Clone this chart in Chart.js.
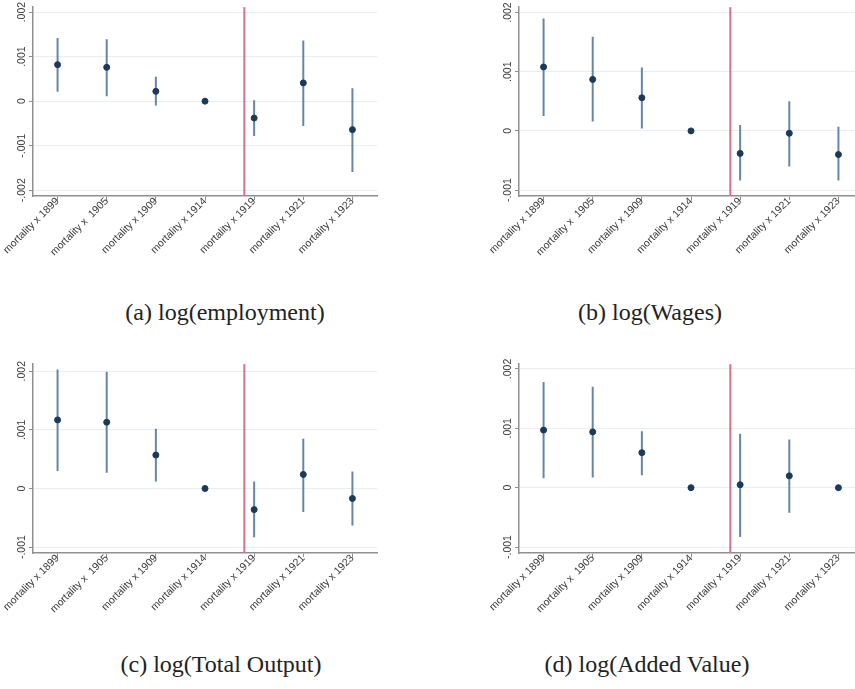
<!DOCTYPE html>
<html>
<head>
<meta charset="utf-8">
<script src="https://cdn.jsdelivr.net/npm/chart.js@4"></script>
<style>
body { margin: 0; width: 855px; height: 689px; overflow: hidden; background: #fff; position: relative; }
.panel { position: absolute; width: 390px; height: 260px; }
.cap { position: absolute; width: 400px; text-align: center; font-family: "Liberation Serif", serif; font-size: 24px; line-height: 28px; color: #222; }
</style>
</head>
<body>
<div class="panel" style="left:0;top:0"><canvas id="chartA"></canvas></div>
<div class="panel" style="left:486px;top:0"><canvas id="chartB"></canvas></div>
<div class="panel" style="left:0;top:357px"><canvas id="chartC"></canvas></div>
<div class="panel" style="left:486px;top:357px"><canvas id="chartD"></canvas></div>
<div class="cap" style="left:25px;top:298px">(a) log(employment)</div>
<div class="cap" style="left:450px;top:298px">(b) log(Wages)</div>
<div class="cap" style="left:21px;top:650px">(c) log(Total Output)</div>
<div class="cap" style="left:447px;top:650px">(d) log(Added Value)</div>
<script>
const categories = ['mortality x 1899', 'mortality x  1905', 'mortality x 1909', 'mortality x 1914', 'mortality x 1919', 'mortality x 1921', 'mortality x 1923'];
const yTicksWide = [-0.002, -0.001, 0, 0.001, 0.002];
const yTicksNarrow = [-0.001, 0, 0.001, 0.002];

// (a) log(employment)
const empCoef = [0.00082, 0.00076, 0.00022, 0, -0.00038, 0.00041, -0.00064];
const empLow  = [0.00021, 0.00011, -0.00010, null, -0.00078, -0.00056, -0.00159];
const empHigh = [0.00142, 0.00139, 0.00055, null, 0.00002, 0.00136, 0.00029];

// (b) log(Wages)
const wageCoef = [0.00108, 0.00087, 0.00056, 0, -0.00038, -0.00004, -0.00040];
const wageLow  = [0.00025, 0.00016, 0.00004, null, -0.00084, -0.00060, -0.00084];
const wageHigh = [0.00190, 0.00159, 0.00107, null, 0.00010, 0.00050, 0.00007];

// (c) log(Total Output)
const outCoef = [0.00117, 0.00113, 0.00057, 0, -0.00036, 0.00024, -0.00017];
const outLow  = [0.00030, 0.00027, 0.00012, null, -0.00083, -0.00040, -0.00063];
const outHigh = [0.00203, 0.00199, 0.00102, null, 0.00012, 0.00085, 0.00029];

// (d) log(Added Value)
const valCoef = [0.00097, 0.00094, 0.00059, 0, 0.00005, 0.00020, 0];
const valLow  = [0.00016, 0.00017, 0.00021, null, -0.00083, -0.00042, null];
const valHigh = [0.00178, 0.00170, 0.00095, null, 0.00091, 0.00081, null];

// vertical line between 1914 and 1919 (category index units)
const breakAt = 3.8;

const axisColor = '#8f8f8f';
const labelColor = '#3a3a3a';

function fmt(v) {
    if (v === 0) return '0';
    return (v < 0 ? '-' : '') + Math.abs(v).toFixed(3).slice(1);
}

const breakLine = {
    id: 'breakLine',
    beforeDatasetsDraw(chart) {
        const {ctx, chartArea, scales: {x}} = chart;
        const px = x.getPixelForValue(breakAt);
        ctx.save();
        ctx.strokeStyle = '#dc7087';
        ctx.lineWidth = 2;
        ctx.beginPath();
        ctx.moveTo(px, chartArea.top);
        ctx.lineTo(px, chartArea.bottom);
        ctx.stroke();
        ctx.restore();
    }
};

// stata style vertical y labels, centred on the tick
const yLabels = {
    id: 'yLabels',
    afterDraw(chart) {
        const {ctx, chartArea, scales: {y}} = chart;
        ctx.save();
        ctx.fillStyle = labelColor;
        ctx.font = '10.5px "Liberation Sans"';
        ctx.textAlign = 'center';
        ctx.textBaseline = 'middle';
        y.ticks.forEach(t => {
            const py = y.getPixelForValue(t.value);
            ctx.save();
            ctx.translate(chartArea.left - 11, py);
            ctx.rotate(-Math.PI / 2);
            ctx.fillText(fmt(t.value), 0, 0);
            ctx.restore();
        });
        ctx.restore();
    }
};

function grafico(id, coef, low, high, yTicks, yMin, yMax) {
    let bars = [];
    coef.forEach((c, i) => {
        if (low[i] === null) return;
        bars.push({x: i, y: low[i]}, {x: i, y: high[i]}, {x: i, y: null});
    });

    let ctx = document.getElementById(id).getContext('2d');
    new Chart(ctx, {
        type: 'scatter',
        data: {
            datasets: [{
                type: 'line',
                data: bars,
                borderColor: '#6686a6',
                borderWidth: 2,
                pointRadius: 0,
                spanGaps: false,
                order: 2
            }, {
                data: coef.map((c, i) => ({x: i, y: c})),
                backgroundColor: '#1b3a5a',
                borderColor: '#1b3a5a',
                pointRadius: 3,
                order: 1
            }]
        },
        options: {
            responsive: true,
            maintainAspectRatio: false,
            animation: false,
            layout: {
                padding: {top: 5, right: 13, left: 0, bottom: 0}
            },
            plugins: {
                legend: {display: false},
                tooltip: {enabled: false}
            },
            scales: {
                x: {
                    type: 'linear',
                    min: -0.5,
                    max: 6.5,
                    afterBuildTicks: s => { s.ticks = categories.map((c, i) => ({value: i})); },
                    afterFit: s => { s.height = 64; },
                    ticks: {
                        callback: v => categories[v],
                        minRotation: 45,
                        maxRotation: 45,
                        autoSkip: false,
                        padding: -5,
                        color: labelColor,
                        font: {family: 'Liberation Sans', size: 10.5}
                    },
                    grid: {
                        drawOnChartArea: false,
                        tickLength: 4,
                        tickColor: axisColor
                    },
                    border: {color: axisColor, width: 1.5}
                },
                y: {
                    min: yMin,
                    max: yMax,
                    afterBuildTicks: s => { s.ticks = yTicks.map(v => ({value: v})); },
                    afterFit: s => { s.width = 33; },
                    ticks: {
                        callback: () => '',
                        padding: 0
                    },
                    grid: {
                        color: '#e8eef1',
                        tickLength: 4,
                        tickColor: axisColor
                    },
                    border: {color: axisColor, width: 1.5}
                }
            }
        },
        plugins: [breakLine, yLabels]
    });
}

grafico('chartA', empCoef, empLow, empHigh, yTicksWide, -0.00213, 0.00211);
grafico('chartB', wageCoef, wageLow, wageHigh, yTicksNarrow, -0.0011, 0.00209);
grafico('chartC', outCoef, outLow, outHigh, yTicksNarrow, -0.0011, 0.00212);
grafico('chartD', valCoef, valLow, valHigh, yTicksNarrow, -0.0011, 0.00208);
</script>
</body>
</html>
